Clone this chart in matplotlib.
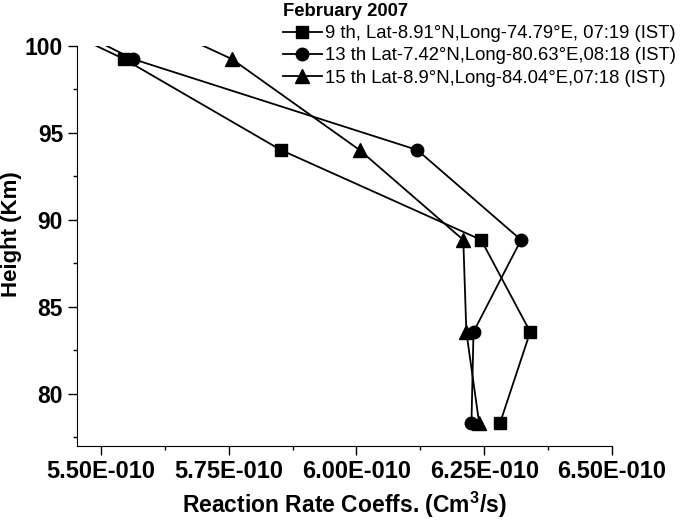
import matplotlib.pyplot as plt
from matplotlib.ticker import MultipleLocator, FuncFormatter

plt.rcParams['font.family'] = ['Liberation Sans', 'DejaVu Sans']
plt.rcParams['mathtext.fontset'] = 'custom'
plt.rcParams['mathtext.bf'] = 'Liberation Sans:bold'

# heights (km) and reaction rate coefficients (units of 1E-10 cm^3/s)
height = [78.33, 83.56, 88.85, 94.02, 99.25, 104.5]
rate_9th = [6.281, 6.340, 6.244, 5.852, 5.545, 5.17]
rate_13th = [6.225, 6.229, 6.322, 6.119, 5.5625, 5.207]
rate_15th = [6.240, 6.215, 6.209, 6.006, 5.756, 5.37]

labels = ['9 th, Lat-8.91\u00b0N,Long-74.79\u00b0E, 07:19 (IST)',
          '13 th Lat-7.42\u00b0N,Long-80.63\u00b0E,08:18 (IST)',
          '15 th Lat-8.9\u00b0N,Long-84.04\u00b0E,07:18 (IST)']
xticks = [5.50, 5.75, 6.00, 6.25, 6.50]

fig = plt.figure(figsize=(6.85, 5.22), dpi=100)
ax = fig.add_axes([0.1124, 0.1456, 0.781, 0.7663])

ax.plot(rate_9th, height, 'k-s', lw=1.3, ms=8, label=labels[0])
ax.plot(rate_13th, height, 'k-o', lw=1.3, ms=9, label=labels[1])
ax.plot(rate_15th, height, 'k-^', lw=1.3, ms=10, label=labels[2])

ax.set_xlim(5.453, 6.50)
ax.set_ylim(77, 100)
ax.set_xticks(xticks)
ax.xaxis.set_minor_locator(MultipleLocator(0.125))
ax.yaxis.set_major_locator(MultipleLocator(5))
ax.yaxis.set_minor_locator(MultipleLocator(2.5))
ax.xaxis.set_major_formatter(FuncFormatter(lambda v, p: '%.2fE-010' % v))

for s in ['top', 'right']:
    ax.spines[s].set_visible(False)
ax.tick_params(which='major', direction='out', length=6.5, width=1)
ax.tick_params(which='minor', direction='out', length=3, width=1)
ax.tick_params(axis='x', labelsize=17)
ax.tick_params(axis='y', labelsize=16.5)
for t in ax.get_xticklabels() + ax.get_yticklabels():
    t.set_fontweight('bold')

ax.set_xlabel('Reaction Rate Coeffs. (Cm$^\\mathbf{3}$/s)', fontsize=16.5, fontweight='bold', labelpad=5)
ax.set_ylabel('Height (Km)', fontsize=16, fontweight='bold')
ax.yaxis.set_label_coords(-0.102, 0.53)

leg = fig.legend(loc='upper left', bbox_to_anchor=(0.413, 0.994), frameon=False,
                 title='February 2007', fontsize=13.3, handlelength=2.1,
                 handletextpad=0.16, labelspacing=0.28, borderpad=0, borderaxespad=0)
leg.get_title().set_fontweight('bold')
leg.get_title().set_fontsize(13.3)
leg._legend_box.align = 'left'

fig.savefig('out.png', dpi=100)
